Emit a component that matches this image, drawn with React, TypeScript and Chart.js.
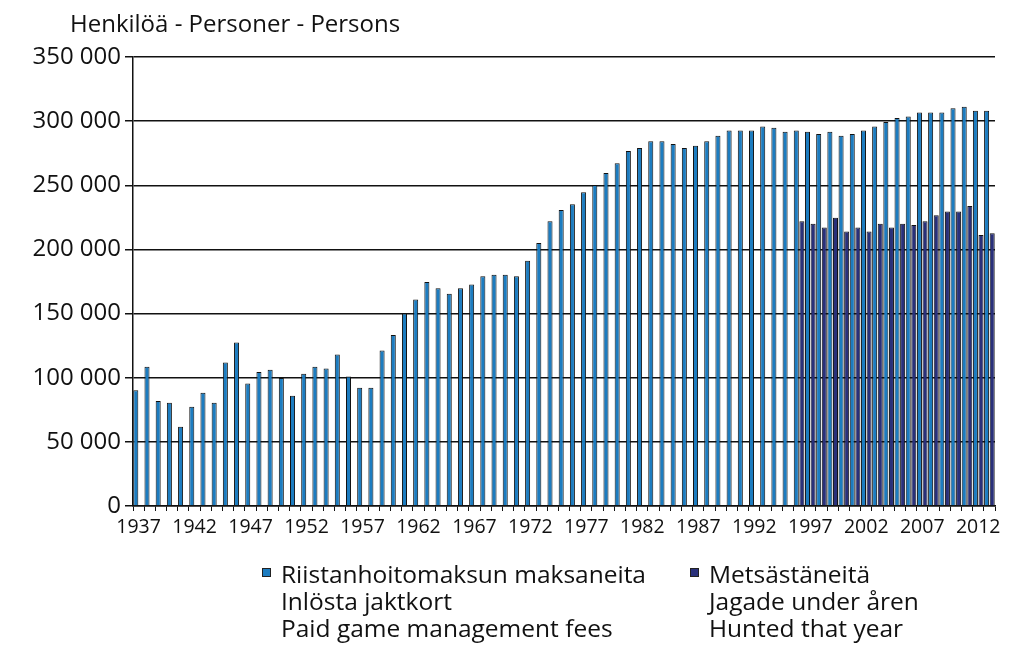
import React, { useEffect, useRef } from "react";
import { Chart, registerables } from "chart.js";

Chart.register(...registerables);

const years: string[] = [];
for (let y = 1937; y <= 2013; y++) years.push(String(y));

const paidFees: number[] = [
  90300, 108500, 81800, 80500, 61800, 77400, 88300, 80500, 111900, 127500,
  95500, 104400, 106200, 99700, 85900, 103100, 108500, 107200, 118100, 101000,
  92200, 92200, 121200, 133200, 150000, 161000, 174700, 169800, 165400, 169800,
  172600, 179100, 180200, 180200, 179100, 191100, 205100, 222000, 230800, 235200,
  244500, 250300, 259600, 267100, 276700, 279100, 284300, 284300, 282200, 279100,
  280900, 284300, 288700, 292800, 292800, 292800, 295900, 294900, 291800, 292800,
  291800, 290000, 291800, 288700, 290000, 292800, 295900, 299300, 302400, 303700,
  306800, 306800, 306800, 310000, 311300, 308100, 308100,
];

const huntedYears: string[] = [
  "1996", "1997", "1998", "1999", "2000", "2001", "2002", "2003", "2004",
  "2005", "2006", "2007", "2008", "2009", "2010", "2011", "2012", "2013",
];
const huntedValues: number[] = [
  222000, 220100, 217000, 224600, 213900, 217000, 213900, 220100, 217000,
  220100, 219100, 222000, 226600, 229500, 229500, 233900, 211300, 212600,
];

const yTicks: number[] = [0, 50000, 100000, 150000, 200000, 250000, 300000, 350000];

const titleText = "Henkilöä - Personer - Persons";
const legend1 = ["Riistanhoitomaksun maksaneita", "Inlösta jaktkort", "Paid game management fees"];
const legend2 = ["Metsästäneitä", "Jagade under åren", "Hunted that year"];

const LIGHT = "#1c7cc0";
const DARK = "#29307a";
const FONT = "'Open Sans', sans-serif";

const fmt = (v: number) => String(v).replace(/\B(?=(\d{3})+(?!\d))/g, " ");

export default function App() {
  const ref = useRef<HTMLCanvasElement | null>(null);

  useEffect(() => {
    if (!ref.current) return;
    const hunted = years.map((y) => {
      const i = huntedYears.indexOf(y);
      return i >= 0 ? huntedValues[i] : null;
    });

    const decor = {
      id: "decor",
      afterDraw(chart: any) {
        const ctx = chart.ctx;
        ctx.save();
        ctx.fillStyle = "#111";
        ctx.textBaseline = "alphabetic";
        ctx.textAlign = "left";
        ctx.font = `24px ${FONT}`;
        ctx.fillText(titleText, 62, 24);

        const drawCol = (x: number, color: string, lines: string[]) => {
          ctx.fillStyle = color;
          ctx.fillRect(x, 560, 9, 9);
          ctx.strokeStyle = "#222";
          ctx.lineWidth = 1;
          ctx.strokeRect(x + 0.5, 560.5, 8, 8);
          ctx.fillStyle = "#111";
          ctx.font = `24.5px ${FONT}`;
          lines.forEach((t, i) => ctx.fillText(t, x + 19, 575 + i * 27));
        };
        drawCol(254, LIGHT, legend1);
        drawCol(682, DARK, legend2);
        ctx.restore();
      },
    };

    const chart = new Chart(ref.current, {
      type: "bar",
      data: {
        labels: years,
        datasets: [
          {
            label: legend1.join(" / "),
            data: paidFees,
            backgroundColor: LIGHT,
            borderColor: "#111",
            borderWidth: 1,
            categoryPercentage: 1,
            barPercentage: 0.9,
          },
          {
            label: legend2.join(" / "),
            data: hunted as any,
            backgroundColor: DARK,
            borderColor: "#111",
            borderWidth: 1,
            categoryPercentage: 1,
            barPercentage: 0.9,
          },
        ],
      },
      options: {
        animation: false,
        responsive: true,
        maintainAspectRatio: false,
        layout: { padding: { top: 49, right: 21, left: 0, bottom: 0 } },
        plugins: {
          legend: { display: false },
          title: { display: false },
          tooltip: { enabled: false },
        },
        scales: {
          x: {
            offset: true,
            grid: {
              offset: true,
              drawOnChartArea: false,
              drawTicks: true,
              tickLength: 5,
              color: "#111",
              lineWidth: 1,
            },
            border: { color: "#111", width: 1.5 },
            ticks: {
              autoSkip: false,
              maxRotation: 0,
              minRotation: 0,
              padding: 5,
              color: "#111",
              font: { family: FONT, size: 19.5 },
              callback: (_v: any, i: number) => (i % 5 === 0 ? years[i] : ""),
            },
            afterFit: (s: any) => {
              s.height = 143;
            },
          },
          y: {
            min: 0,
            max: 350000,
            afterBuildTicks: (s: any) => {
              s.ticks = yTicks.map((v) => ({ value: v }));
            },
            grid: { color: "#111", lineWidth: 1.5, tickLength: 8 },
            border: { color: "#111", width: 1.5 },
            ticks: {
              padding: 4,
              color: "#111",
              font: { family: FONT, size: 24 },
              callback: (v: any) => fmt(Number(v)),
            },
            afterFit: (s: any) => {
              s.width = 125;
            },
          },
        },
      },
      plugins: [decor],
    });
    return () => chart.destroy();
  }, []);

  return (
    <div style={{ width: 1008, height: 641, position: "relative" }}>
      <canvas ref={ref} />
    </div>
  );
}
